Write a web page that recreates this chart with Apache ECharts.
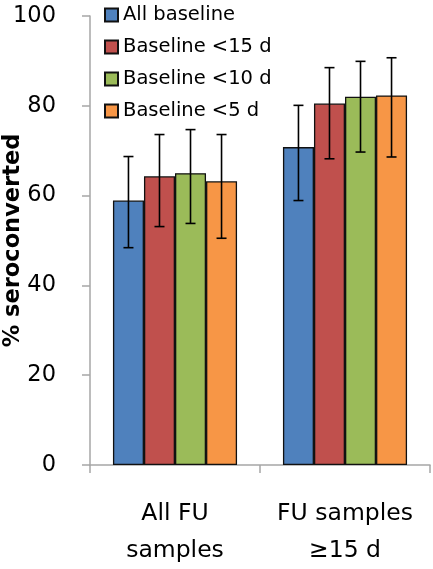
<!DOCTYPE html>
<html><head><meta charset="utf-8">
<script src="https://cdn.jsdelivr.net/npm/echarts@6/dist/echarts.min.js"></script>
<style>html,body{margin:0;padding:0;background:#fff}#c{width:433px;height:569px}</style>
</head><body><div id="c"></div>
<script>
var categories = ['All FU\nsamples', 'FU samples\n≥15 d'];
var seriesNames = ['All baseline', 'Baseline <15 d', 'Baseline <10 d', 'Baseline <5 d'];
var colors = ['#4f81bd', '#c0504d', '#9bbb59', '#f79646'];
var allBaseline = [58.9, 70.8];
var baseline15 = [64.3, 80.5];
var baseline10 = [65.0, 82.0];
var baseline5 = [63.2, 82.3];
var errLow = [[48.4, 58.9], [53.1, 68.2], [53.8, 69.7], [50.5, 68.6]];
var errHigh = [[68.7, 80.1], [73.6, 88.5], [74.7, 89.9], [73.6, 90.7]];
var yTicks = [0, 20, 40, 60, 80, 100];

var values = [allBaseline, baseline15, baseline10, baseline5];
var FONT = '"DejaVu Sans", sans-serif';
var catGap = 0.27;
var chart = echarts.init(document.getElementById('c'));
var series = [];
values.forEach(function (v, i) {
  series.push({
    name: seriesNames[i], type: 'bar', data: v,
    barGap: '0%', barCategoryGap: (catGap * 100) + '%',
    itemStyle: { color: colors[i], borderColor: '#111', borderWidth: 1.3 },
    z: 2
  });
});
var errData = [];
for (var s = 0; s < 4; s++) for (var c = 0; c < categories.length; c++) errData.push([c, errLow[s][c], errHigh[s][c], s]);
series.push({
  type: 'custom', name: 'err', data: errData, z: 5,
  renderItem: function (params, api) {
    var c = api.value(0), lo = api.value(1), hi = api.value(2), s = api.value(3);
    var band = api.size([1, 0])[0];
    var bw = band * (1 - catGap) / 4;
    var pLo = api.coord([c, lo]), pHi = api.coord([c, hi]);
    var x = pLo[0] + (s - 1.5) * bw;
    var cap = 5;
    var st = { stroke: '#000', lineWidth: 1.6 };
    return { type: 'group', children: [
      { type: 'line', shape: { x1: x, y1: pLo[1], x2: x, y2: pHi[1] }, style: st },
      { type: 'line', shape: { x1: x - cap, y1: pLo[1], x2: x + cap, y2: pLo[1] }, style: st },
      { type: 'line', shape: { x1: x - cap, y1: pHi[1], x2: x + cap, y2: pHi[1] }, style: st }
    ]};
  }
});
chart.setOption({
  animation: false,
  textStyle: { fontFamily: FONT },
  grid: { left: 90, right: 3, top: 16, bottom: 104, containLabel: false, outerBoundsMode: 'none' },
  legend: {
    data: seriesNames, orient: 'vertical', left: 99, top: 0,
    itemWidth: 13, itemHeight: 13, itemGap: 12, icon: 'rect',
    textStyle: { fontFamily: FONT, fontSize: 19.5, color: '#000' }
  },
  xAxis: {
    type: 'category', data: categories,
    axisLine: { lineStyle: { color: '#a6a6a6', width: 1.5 } },
    axisTick: { show: true, length: 8, lineStyle: { color: '#a6a6a6', width: 1.5 } },
    axisLabel: { interval: 0, hideOverlap: false, fontFamily: FONT, fontSize: 23.5, color: '#000', margin: 30, lineHeight: 37 }
  },
  yAxis: {
    type: 'value', min: 0, max: 100, interval: 20,
    name: '% seroconverted', nameLocation: 'middle', nameRotate: 90, nameGap: 65, nameMoveOverlap: false,
    nameTextStyle: { fontFamily: FONT, fontSize: 22.5, fontWeight: 'bold', color: '#000' },
    axisLine: { show: true, lineStyle: { color: '#a6a6a6', width: 1.5 } },
    axisTick: { show: true, length: 8, lineStyle: { color: '#a6a6a6', width: 1.5 } },
    splitLine: { show: false },
    axisLabel: { fontFamily: FONT, fontSize: 22.5, color: '#000', margin: 34, align: 'right',
      formatter: function (v) { return yTicks.indexOf(v) >= 0 ? String(v) : ''; } }
  },
  series: series
});
</script></body></html>
